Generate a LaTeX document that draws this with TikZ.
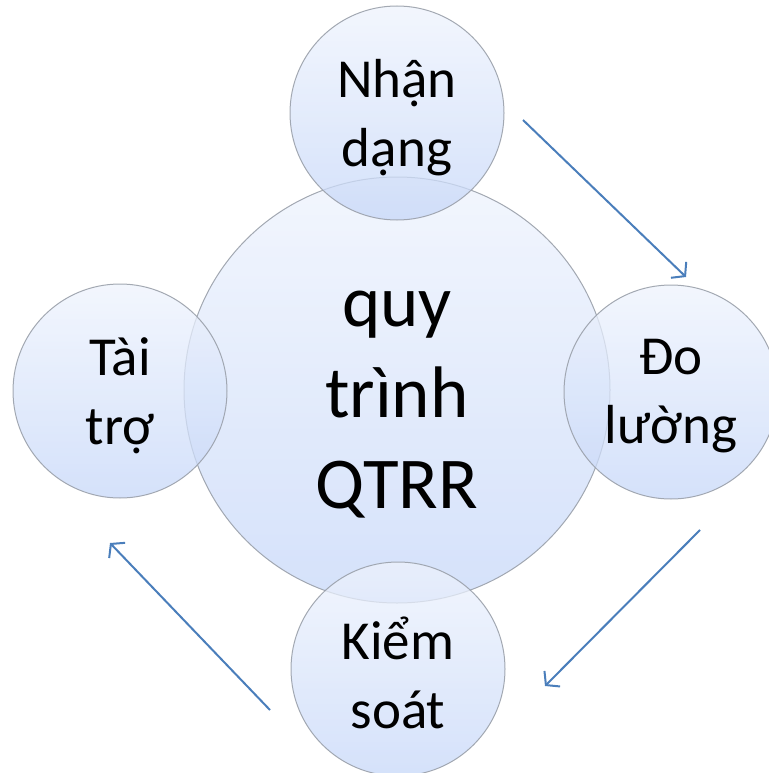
\documentclass[tikz,border=0pt]{standalone}
\usepackage{fontspec}
\setmainfont{Carlito}
\usetikzlibrary{arrows.meta}
\definecolor{ringtop}{HTML}{EEF3FD}
\definecolor{ringbot}{HTML}{C6D7F8}
\definecolor{ringline}{HTML}{9AA0AA}
\definecolor{flow}{HTML}{4A7EBB}
\tikzset{
  bubble/.style={circle, draw=ringline, line width=1pt, inner sep=0pt,
    top color=ringtop, bottom color=ringbot, fill opacity=0.75,
    draw opacity=0.9},
  bigbubble/.style={bubble, minimum size=426pt},
  smallbubble/.style={bubble, minimum size=214pt},
  bigtext/.style={align=center, text=black, inner sep=0pt,
    font=\fontsize{73}{91}\selectfont},
  smalltext/.style={align=center, text=black, inner sep=0pt,
    font=\fontsize{55}{69}\selectfont},
  flowarrow/.style={draw=flow, line width=2pt,
    -{Straight Barb[length=9pt,width=22pt,line width=2pt]}}
}
\begin{document}
\begin{tikzpicture}[x=1pt,y=-1pt]
  \useasboundingbox (0,0) rectangle (768,773);
  % central process circle
  \node[bigbubble] (core) at (397,390) {};
  % the four stages around it
  \node[smallbubble] (identify) at (397,113) {};
  \node[smallbubble] (measure) at (671,392) {};
  \node[smallbubble] (control) at (398,669) {};
  \node[smallbubble] (finance) at (120,391) {};
  % labels
  \node[bigtext] (coretxt) at (397,405) {quy\\trình\\QTRR};
  \node[smalltext] (identifytxt) at (397,118) {Nhận\\dạng};
  \node[smalltext] (measuretxt) at (671,396) {Đo\\lường};
  \node[smalltext] (controltxt) at (398,673) {Kiểm\\soát};
  \node[smalltext] (financetxt) at (120,396) {Tài\\trợ};
  % ends of the flow arrows
  \coordinate (a1s) at (523,120);
  \coordinate (a1e) at (686,277);
  \coordinate (a2s) at (700,530);
  \coordinate (a2e) at (545,686);
  \coordinate (a3s) at (270,710);
  \coordinate (a3e) at (110,543);
  \draw[flowarrow] (a1s) -- (a1e);
  \draw[flowarrow] (a2s) -- (a2e);
  \draw[flowarrow] (a3s) -- (a3e);
\end{tikzpicture}
\end{document}
